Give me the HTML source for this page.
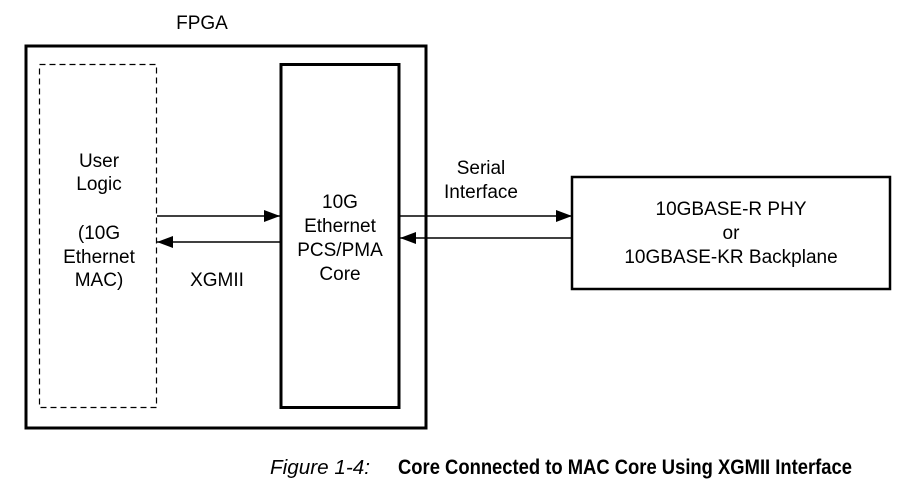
<!DOCTYPE html>
<html><head><meta charset="utf-8"><style>
html,body{margin:0;padding:0;background:#fff;}
svg{display:block;}
text{font-family:"Liberation Sans",Arial,sans-serif;fill:#000;}
</style></head><body>
<svg width="916" height="496" viewBox="0 0 916 496" xmlns="http://www.w3.org/2000/svg">
<defs>
<marker id="ah" viewBox="0 0 16 12" refX="16" refY="6" markerWidth="16" markerHeight="12" markerUnits="userSpaceOnUse" orient="auto">
<path d="M0,0 L16,6 L0,12 Z" fill="#000"/>
</marker>
</defs>
<text x="202" y="29" font-size="19" text-anchor="middle">FPGA</text>
<rect x="26" y="46" width="400" height="382" fill="none" stroke="#000" stroke-width="3"/>
<rect x="39.5" y="64.5" width="117" height="343" fill="none" stroke="#000" stroke-width="1.2" stroke-dasharray="6,4"/>
<rect x="281" y="64.5" width="118" height="343" fill="none" stroke="#000" stroke-width="3"/>
<rect x="572" y="177" width="318" height="112" fill="none" stroke="#000" stroke-width="2.5"/>
<g font-size="19" text-anchor="middle">
<text x="99" y="167">User</text>
<text x="99" y="190">Logic</text>
<text x="99" y="239">(10G</text>
<text x="99" y="263">Ethernet</text>
<text x="99" y="286">MAC)</text>
<text x="217" y="286">XGMII</text>
<text x="340" y="208">10G</text>
<text x="340" y="232">Ethernet</text>
<text x="340" y="256">PCS/PMA</text>
<text x="340" y="280">Core</text>
<text x="481" y="174">Serial</text>
<text x="481" y="198">Interface</text>
<text x="731" y="215">10GBASE-R PHY</text>
<text x="731" y="239">or</text>
<text x="731" y="263">10GBASE-KR Backplane</text>
</g>
<g stroke="#000" stroke-width="1.5">
<line x1="157" y1="216" x2="280" y2="216" marker-end="url(#ah)"/>
<line x1="280" y1="242" x2="157" y2="242" marker-end="url(#ah)"/>
<line x1="400" y1="216" x2="572" y2="216" marker-end="url(#ah)"/>
<line x1="572" y1="238" x2="400" y2="238" marker-end="url(#ah)"/>
</g>
<text x="270" y="474" font-size="20" font-style="italic" textLength="100" lengthAdjust="spacingAndGlyphs">Figure 1-4:</text>
<text x="398" y="474" font-size="21" font-weight="bold" textLength="454" lengthAdjust="spacingAndGlyphs">Core Connected to MAC Core Using XGMII Interface</text>
</svg>
</body></html>
